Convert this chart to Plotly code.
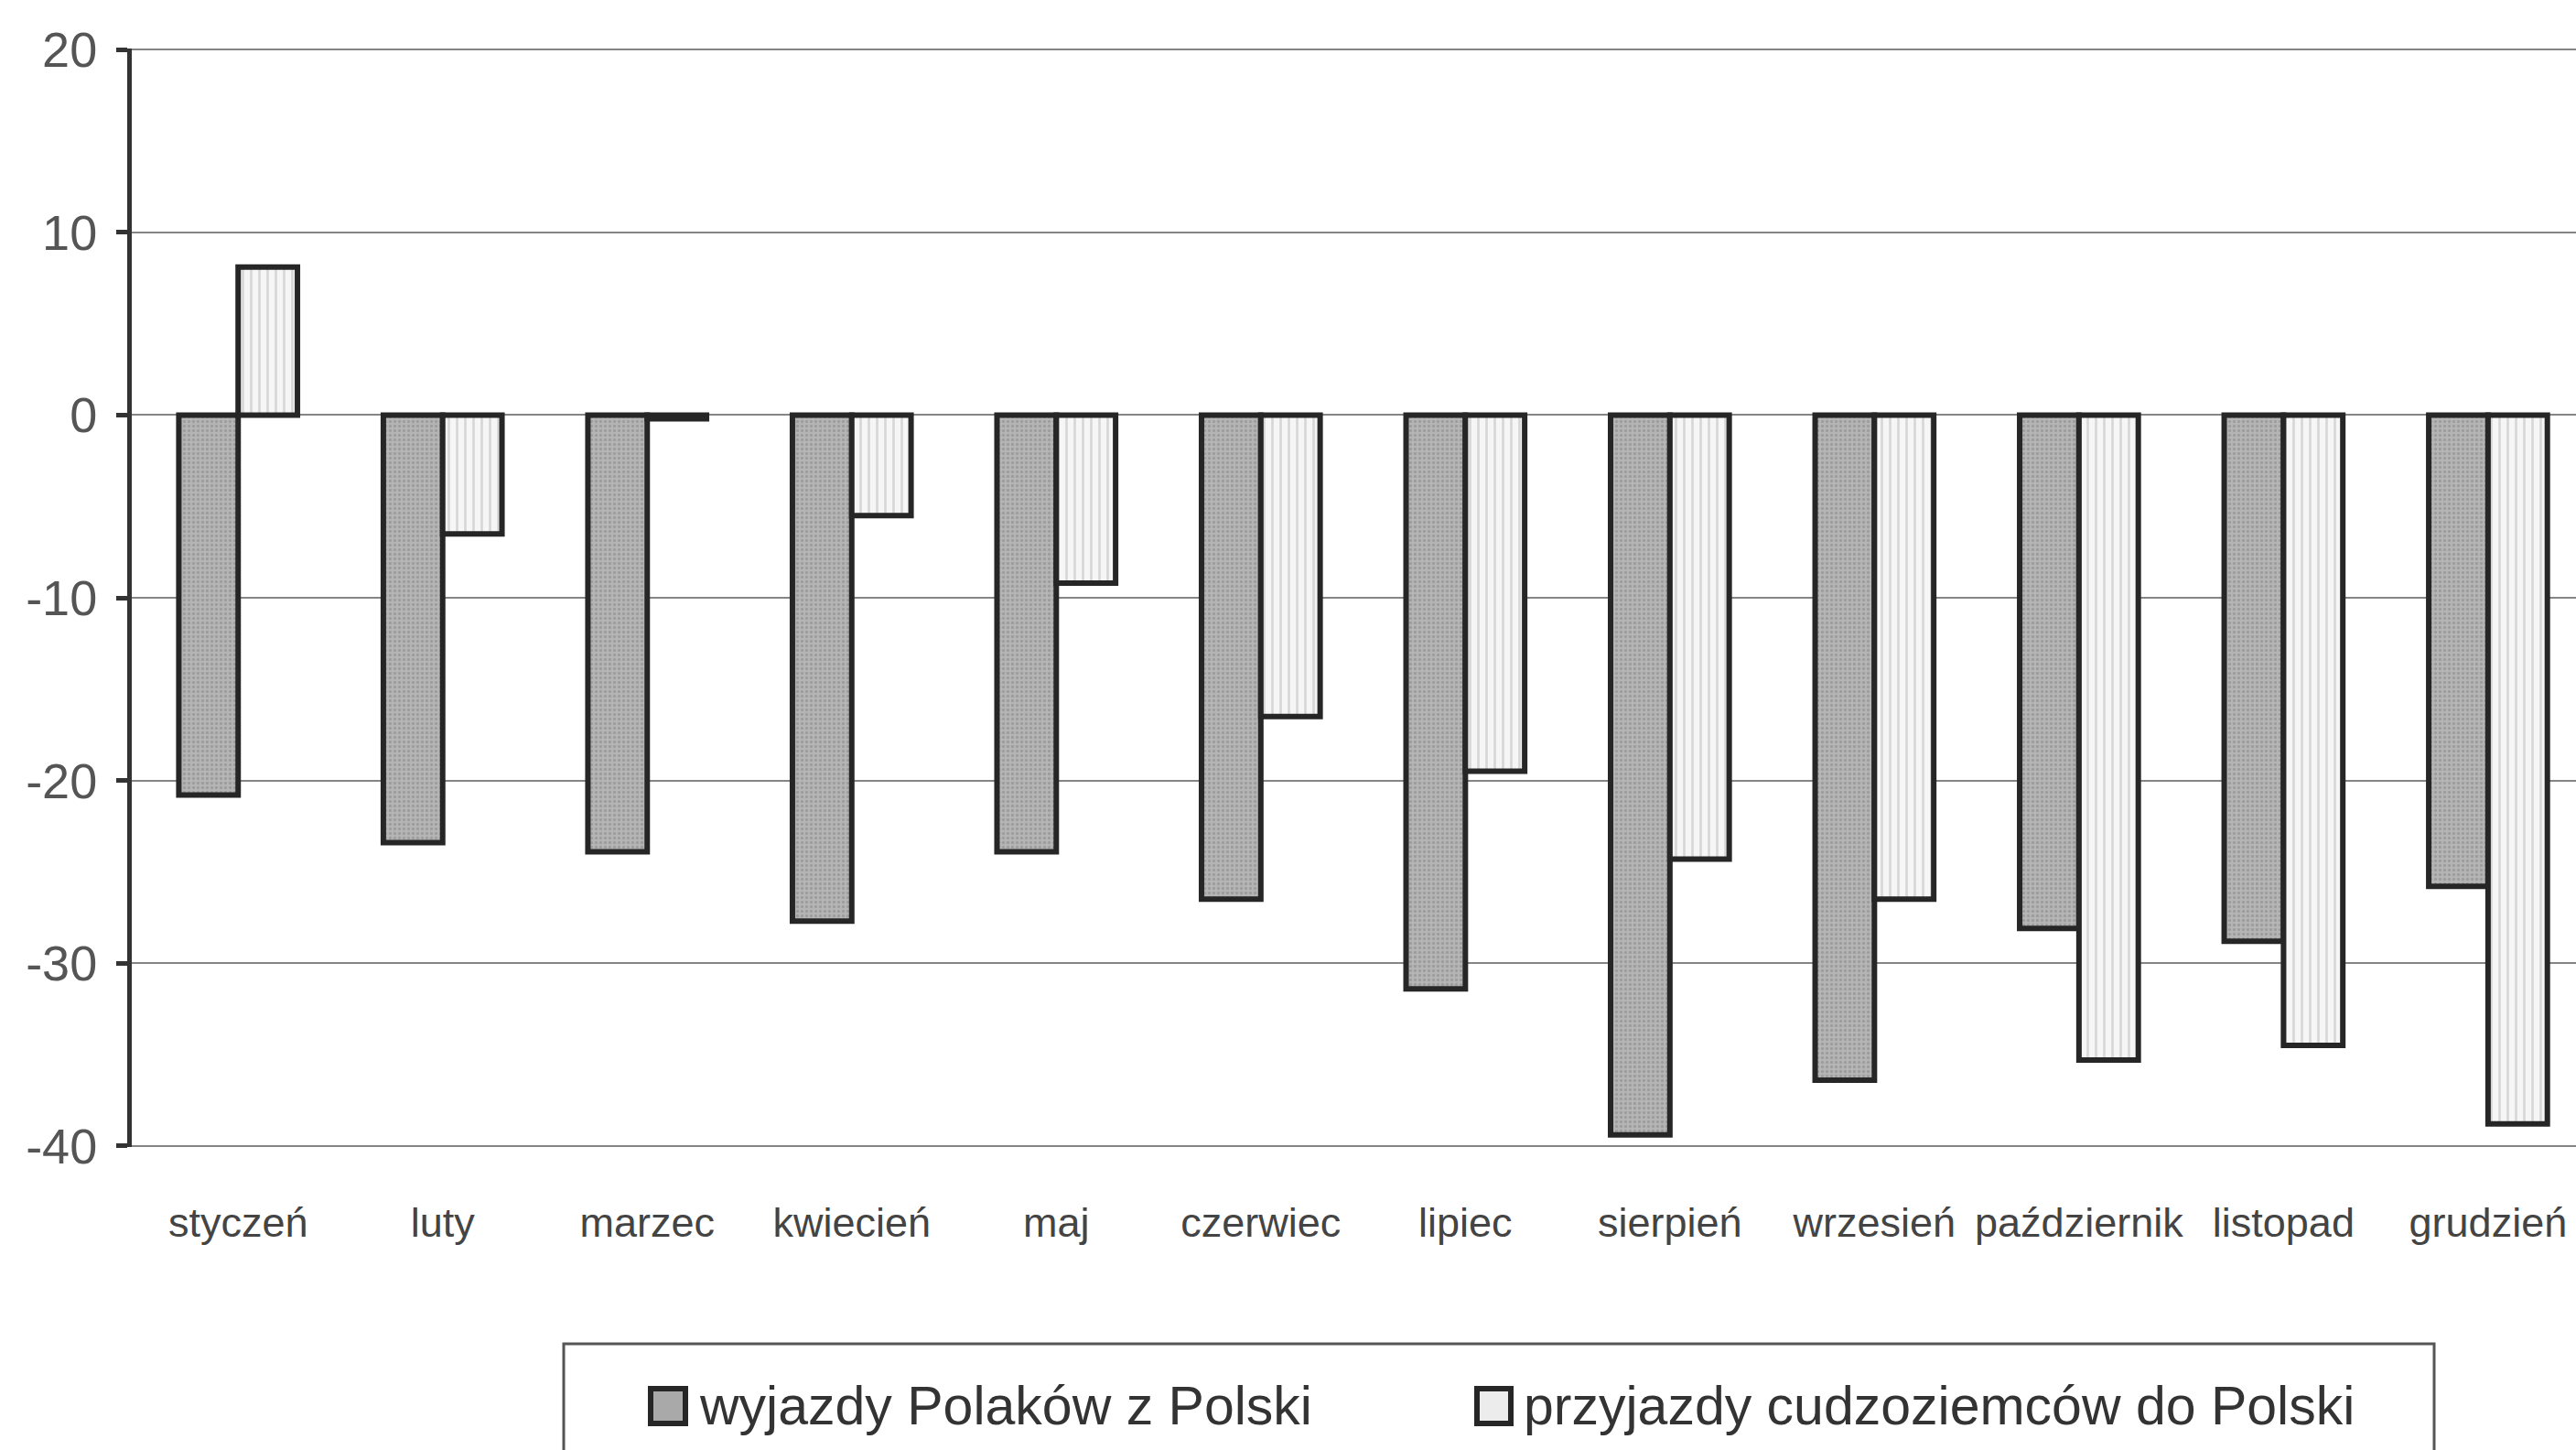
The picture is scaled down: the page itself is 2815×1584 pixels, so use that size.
import plotly.graph_objects as go

months = ["styczeń", "luty", "marzec", "kwiecień", "maj", "czerwiec", "lipiec",
          "sierpień", "wrzesień", "październik", "listopad", "grudzień"]
wyjazdy = [-20.8, -23.4, -23.9, -27.7, -23.9, -26.5, -31.4, -39.4, -36.4, -28.1, -28.8, -25.8]
przyjazdy = [8.1, -6.5, -0.2, -5.5, -9.2, -16.5, -19.5, -24.3, -26.5, -35.3, -34.5, -38.8]
series_names = ["wyjazdy Polaków z Polski", "przyjazdy cudzoziemców do Polski"]
y_ticks = [20, 10, 0, -10, -20, -30, -40]

W, H = 2815, 1584
ML, MT, MB, MR = 144, 53, 331, 0
PW, PH = W - ML - MR, H - MT - MB


def px(xp):
    return (xp - ML) / PW


def py(yp):
    return (H - MB - yp) / PH


FONT = "Liberation Sans, Arial, sans-serif"
OUT = "#262626"

fig = go.Figure()
fig.add_trace(go.Bar(
    x=months, y=wyjazdy, name=series_names[0],
    marker=dict(color="#b5b5b5", line=dict(color=OUT, width=6),
                pattern=dict(shape=".", fgcolor="#858585", size=5, solidity=0.35)),
    showlegend=False,
))
fig.add_trace(go.Bar(
    x=months, y=przyjazdy, name=series_names[1],
    marker=dict(color="#f6f6f6", line=dict(color=OUT, width=6),
                pattern=dict(shape="|", fgcolor="#b8b8b8", size=9, solidity=0.3)),
    showlegend=False,
))

# manual legend (box cut by bottom edge as in the reference)
shapes = [
    dict(type="rect", xref="paper", yref="paper",
         x0=px(616), x1=px(2660), y0=py(1625), y1=py(1468),
         line=dict(color="#555555", width=3), fillcolor="rgba(0,0,0,0)"),
    dict(type="rect", xref="paper", yref="paper",
         x0=px(711), x1=px(749), y0=py(1555), y1=py(1517),
         line=dict(color=OUT, width=6), fillcolor="#a9a9a9"),
    dict(type="rect", xref="paper", yref="paper",
         x0=px(1614), x1=px(1651), y0=py(1555), y1=py(1517),
         line=dict(color=OUT, width=6), fillcolor="#ececec"),
]
annotations = [
    dict(text=series_names[0], xref="paper", yref="paper", x=px(762), y=py(1536),
         xanchor="left", yanchor="middle", showarrow=False,
         font=dict(family=FONT, size=59, color="#333333")),
    dict(text=series_names[1], xref="paper", yref="paper", x=px(1663), y=py(1536),
         xanchor="left", yanchor="middle", showarrow=False,
         font=dict(family=FONT, size=59, color="#333333")),
]

fig.update_layout(
    width=W, height=H,
    margin=dict(l=ML, r=MR, t=MT, b=MB, pad=0),
    paper_bgcolor="white", plot_bgcolor="white",
    barmode="group", bargap=0.42, bargroupgap=0,
    shapes=shapes, annotations=annotations,
    font=dict(family=FONT, color="#444444"),
)
fig.update_xaxes(
    type="category", range=[-0.52, 11.43],
    showgrid=False, showline=False, zeroline=False,
    ticks="", tickangle=0, ticklabelstandoff=52,
    tickfont=dict(family=FONT, size=45, color="#444444"),
)
fig.update_yaxes(
    range=[-40.06, 20.06], tickvals=y_ticks, ticktext=[str(v) for v in y_ticks],
    showgrid=True, gridcolor="#858585", gridwidth=2,
    zeroline=False,
    showline=True, linecolor="#333333", linewidth=5,
    ticks="outside", ticklen=12, tickwidth=5, tickcolor="#333333",
    ticklabelstandoff=10,
    tickfont=dict(family=FONT, size=54, color="#555555"),
)

fig.write_html("out.html", config={"displayModeBar": False},
               post_script="document.body.style.margin='0';document.body.style.overflow='hidden';")
